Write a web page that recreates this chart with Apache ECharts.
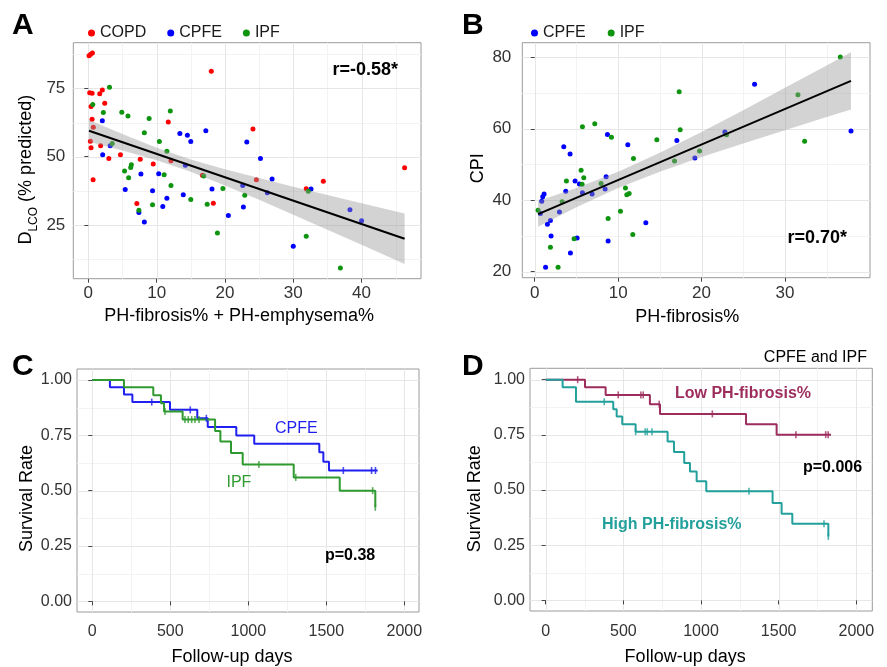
<!DOCTYPE html>
<html><head><meta charset="utf-8">
<script src="https://cdn.jsdelivr.net/npm/echarts@6/dist/echarts.min.js"></script>
<style>html,body{margin:0;padding:0;background:#fff}#c{width:887px;height:667px}</style>
</head><body><div id="c"></div>
<script>
// ---------- Panel A: DLCO vs PH-fibrosis% + PH-emphysema% ----------
const aCopdX = [0.1,0.35,0.6,0.2,0.55,1.67,2.05,2.4,0.4,0.55,0.73,0.3,0.4,1.8,0.7,3.0,4.7,7.6,7.1,9.5,11.7,12.1,18.0,16.7,18.3,24.1,24.6,31.9,34.4,46.3];
const aCopdY = [86.9,87.5,87.9,73.4,73.2,73.0,74.4,69.6,68.4,63.7,60.8,55.7,53.3,54.0,41.6,49.4,50.7,49.1,32.9,47.3,62.7,48.5,81.3,43.2,33.0,60.1,41.6,38.3,41.0,46.0];
const aCpfeX = [2.05,2.1,3.2,5.4,7.7,7.4,8.2,9.4,10.3,10.9,11.5,13.4,13.9,14.2,14.5,15.0,17.2,18.1,20.5,22.6,22.7,23.2,25.2,26.2,26.9,30.0,32.6,38.3,40.0];
const aCpfeY = [63.2,50.7,54.0,38.0,43.7,29.6,26.1,37.6,43.8,31.8,34.8,58.5,36.1,46.9,57.9,55.6,59.5,38.2,28.5,39.5,31.6,55.4,49.4,36.8,41.9,17.3,38.2,30.6,26.6];
const aIpfX = [0.65,3.1,2.2,4.9,5.8,3.5,5.3,5.9,6.2,6.3,7.4,8.2,8.9,9.4,10.4,11.1,11.5,12.0,12.1,15.0,16.9,17.4,18.9,19.7,22.9,31.9,32.2,36.9];
const aIpfY = [69.1,75.4,66.2,66.3,64.9,54.8,44.8,42.3,46.1,47.1,30.4,58.8,64.0,32.4,55.6,43.4,52.0,66.7,39.5,34.4,43.0,32.6,22.1,38.4,35.9,20.9,37.4,9.3];
const aFitX = [0.1, 46.3];
const aFitY = [59.5, 20.0];
const aBandX = [0.1,5,10,15,20,25,30,35,40,46.3];
const aBandLo = [55.5,52.3,48.7,44.5,39.5,34.3,28.8,23.3,17.8,10.8];
const aBandHi = [63.4,58.3,53.3,49.0,45.4,42.2,39.0,36.0,33.0,29.2];
const aXTicks = [0,10,20,30,40];
const aXMinor = [5,15,25,35,45];
const aYTicks = [25,50,75];
const aYMinor = [12.5,37.5,62.5,87.5];

// ---------- Panel B: CPI vs PH-fibrosis% ----------
const bCpfeX = [0.68,0.84,0.96,1.12,1.3,1.52,1.88,1.96,2.96,3.48,3.72,4.24,4.28,4.84,5.08,5.36,5.72,6.88,8.44,8.56,8.72,8.8,11.16,13.32,17.04,19.2,22.8,26.36,37.92];
const bCpfeY = [36.25,39.7,41.0,41.75,21.2,33.3,34.3,30.0,36.7,55.0,42.5,52.95,25.2,45.4,29.4,44.55,42.1,41.75,43.15,46.6,58.4,28.6,55.5,33.7,56.7,51.8,59.1,72.5,59.4];
const bIpfX = [0.4,1.88,2.8,3.28,3.8,4.72,5.56,5.68,5.72,5.88,7.2,7.96,8.8,9.2,10.28,10.88,11.04,11.32,11.76,11.84,14.64,16.76,17.32,17.44,19.76,23.0,31.56,32.36,36.64];
const bIpfY = [37.2,26.8,21.2,39.6,45.4,29.2,48.4,44.5,60.6,46.3,61.4,44.65,34.85,57.6,36.9,43.4,41.5,41.9,30.4,51.7,56.9,51.0,70.4,59.7,53.8,58.3,69.55,56.5,80.1];
const bFitX = [0.4, 37.92];
const bFitY = [36.1, 73.4];
const bBandX = [0.4,5,10,15,20,25,30,35,37.92];
const bBandLo = [32.6,38.0,43.4,48.0,52.1,55.9,59.6,63.3,65.4];
const bBandHi = [39.8,43.4,48.0,53.3,59.1,65.2,71.5,77.7,81.4];
const bXTicks = [0,10,20,30];
const bXMinor = [5,15,25,35];
const bYTicks = [20,40,60,80];
const bYMinor = [30,50,70];

// ---------- Panel C: KM CPFE vs IPF ----------
const cCpfeT = [0,113,203,257,498,673,740,923,1038,1455,1481,1517,1829];
const cCpfeS = [1,0.967,0.934,0.9,0.865,0.827,0.787,0.749,0.712,0.673,0.631,0.591,0.591];
const cCpfeCens = [381,628,731,1609,1790,1815];
const cIpfT = [0,203,391,440,460,579,787,821,889,964,1291,1586,1814];
const cIpfS = [1,0.967,0.931,0.895,0.858,0.821,0.77,0.722,0.67,0.618,0.56,0.5,0.425];
const cIpfCens = [466,594,615,637,658,684,1068,1304,1797,1814];

// ---------- Panel D: KM low vs high PH-fibrosis% ----------
const dLowT = [0,253,386,671,736,1290,1487,1837];
const dLowS = [1,0.966,0.931,0.889,0.845,0.798,0.751,0.751];
const dLowCens = [206,467,613,628,731,1073,1611,1803,1819];
const dHighT = [0,109,195,435,457,493,579,785,826,892,929,972,1034,1461,1519,1588,1820];
const dHighS = [1,0.966,0.9,0.866,0.833,0.798,0.764,0.72,0.672,0.622,0.584,0.54,0.494,0.441,0.393,0.347,0.29];
const dHighCens = [377,579,641,654,684,1309,1792,1820];

const kmXTicks = [0,500,1000,1500,2000];
const kmXMinor = [250,750,1250,1750];
const kmYTicks = [0,0.25,0.5,0.75,1];
const kmYMinor = [0.125,0.375,0.625,0.875];

const FONT = 'Liberation Sans, Arial, sans-serif';
const RED = '#ff0000', BLUE = '#0000ff', GREEN = '#0e940e';
const KBLUE = '#1f1ff0', KGREEN = '#2f9a2f', MAROON = '#9c2d5d', TEAL = '#22a09b';

const zip = (a, b) => a.map((v, i) => [v, b[i]]);
function survAt(T, S, t) { let s = S[0]; for (let i = 0; i < T.length; i++) if (T[i] <= t) s = S[i]; return s; }

function gridLines(idx, xMaj, xMin, yMaj, yMin) {
  return {
    type: 'custom', xAxisIndex: idx, yAxisIndex: idx, silent: true, z: 0,
    data: [[xMaj[0], yMaj[0]]],
    renderItem: function (params, api) {
      const cs = params.coordSys; const ch = [];
      const px = v => Math.round(v) + 0.5;
      const vl = (v, col, w) => { const x = px(api.coord([v, yMaj[0]])[0]); if (x < cs.x || x > cs.x + cs.width) return; ch.push({type:'line', shape:{x1:x,y1:cs.y,x2:x,y2:cs.y+cs.height}, style:{stroke:col, lineWidth:w}}); };
      const hl = (v, col, w) => { const y = px(api.coord([xMaj[0], v])[1]); if (y < cs.y || y > cs.y + cs.height) return; ch.push({type:'line', shape:{x1:cs.x,y1:y,x2:cs.x+cs.width,y2:y}, style:{stroke:col, lineWidth:w}}); };
      xMin.forEach(v => vl(v, '#f3f3f3', 1)); yMin.forEach(v => hl(v, '#f3f3f3', 1));
      xMaj.forEach(v => vl(v, '#e6e6e6', 1)); yMaj.forEach(v => hl(v, '#e6e6e6', 1));
      return {type:'group', children: ch};
    }
  };
}
function band(idx, X, Lo, Hi) {
  return {
    type: 'custom', xAxisIndex: idx, yAxisIndex: idx, silent: true, z: 3,
    data: [[X[0], Lo[0]]],
    renderItem: function (params, api) {
      const pts = [];
      for (let i = 0; i < X.length; i++) pts.push(api.coord([X[i], Hi[i]]));
      for (let i = X.length - 1; i >= 0; i--) pts.push(api.coord([X[i], Lo[i]]));
      return {type:'polygon', shape:{points: pts}, style:{fill:'rgba(150,150,150,0.42)'}};
    }
  };
}
function scat(idx, name, X, Y, col) {
  return {type:'scatter', name, xAxisIndex: idx, yAxisIndex: idx, symbolSize: 5, z: 2,
    itemStyle:{color: col, opacity: 1}, data: zip(X, Y)};
}
function fit(idx, X, Y) {
  return {type:'line', xAxisIndex: idx, yAxisIndex: idx, showSymbol:false, z: 4, silent: true,
    lineStyle:{color:'#000', width: 2}, data: zip(X, Y)};
}
function km(idx, name, T, S, col) {
  return {type:'line', name, xAxisIndex: idx, yAxisIndex: idx, step:'end', showSymbol:false, z: 3,
    lineStyle:{color: col, width: 2}, itemStyle:{color: col}, data: zip(T, S)};
}
function cens(idx, T, S, C, col) {
  return {type:'scatter', xAxisIndex: idx, yAxisIndex: idx, symbol:'rect', symbolSize:[1.6, 7], z: 4,
    itemStyle:{color: col}, data: C.map(t => [t, survAt(T, S, t)])};
}
const plain = v => String(v);
function xAx(idx, min, max, ticks, o) {
  return {type:'value', gridIndex: idx, min, max, name: o.name, nameLocation:'middle', nameGap: o.gap,
    nameTextStyle:{fontFamily: FONT, fontSize: 18, color:'#000', padding: o.pad},
    axisLine:{show:false}, splitLine:{show:false},
    axisTick:{show:true, length: 4, lineStyle:{color:'#444'}, customValues: ticks},
    axisLabel:{customValues: ticks, margin: o.margin, fontFamily: FONT, fontSize: o.fs, color:'#333', formatter: o.fmt || plain}};
}
function yAx(idx, min, max, ticks, o) {
  return {type:'value', gridIndex: idx, min, max, name: o.name, nameLocation:'middle', nameGap: o.gap,
    nameTextStyle:Object.assign({fontFamily: FONT, fontSize: 18, color:'#000', padding: o.pad}, o.nts || {}),
    axisLine:{show:false}, splitLine:{show:false},
    axisTick:{show:true, length: 4, lineStyle:{color:'#444'}, customValues: ticks},
    axisLabel:{customValues: ticks, margin: o.margin, fontFamily: FONT, fontSize: o.fs, color:'#333', formatter: o.fmt || plain}};
}
const f2 = v => v.toFixed(2);

const gridStyle = {show:true, borderColor:'#9a9a9a', borderWidth:1, backgroundColor:'#fff', containLabel:false};
const txt = (text, x, y, o) => ({type:'text', x, y, z: 100, silent:true,
  style:Object.assign({text, fill:'#000', fontFamily: FONT, fontSize: 16, align:'left', verticalAlign:'middle'}, o || {})});

const option = {
  animation: false,
  backgroundColor: '#fff',
  grid: [
    Object.assign({left: 73.3, top: 42.7, width: 347.7, height: 236}, gridStyle),
    Object.assign({left: 522.3, top: 42.7, width: 347.7, height: 235}, gridStyle),
    Object.assign({left: 77, top: 369, width: 342, height: 243.7}, gridStyle),
    Object.assign({left: 530, top: 368.3, width: 342.3, height: 243.4}, gridStyle)
  ],
  legend: [
    {data:['COPD','CPFE','IPF'], left: 83, top: 20, icon:'circle', itemWidth: 7, itemHeight: 7, itemGap: 21,
      textStyle:{fontFamily: FONT, fontSize: 16, color:'#1a1a1a'}, selectedMode: false},
    {data:['CPFE','IPF'], left: 526, top: 20, icon:'circle', itemWidth: 7, itemHeight: 7, itemGap: 22,
      textStyle:{fontFamily: FONT, fontSize: 16, color:'#1a1a1a'}, selectedMode: false}
  ],
  xAxis: [
    xAx(0, -2.2, 48.7, aXTicks, {name:'PH-fibrosis% + PH-emphysema%', gap: 28, pad:[0,16,0,0], margin: 6, fs: 17}),
    xAx(1, -1.49, 40.2, bXTicks, {name:'PH-fibrosis%', gap: 30, pad:[0,18,0,0], margin: 7, fs: 17}),
    xAx(2, -98, 2094, kmXTicks, {name:'Follow-up days', gap: 36, pad:[0,32,0,0], margin: 12, fs: 16}),
    xAx(3, -101, 2103, kmXTicks, {name:'Follow-up days', gap: 37, pad:[0,32,0,0], margin: 13, fs: 16})
  ],
  yAxis: [
    yAx(0, 5.4, 91.7, aYTicks, {name:'D{s|LCO} (% predicted)', gap: 38, pad:[0,18,0,0], margin: 8, fs: 17,
      nts:{rich:{s:{fontFamily: FONT, fontSize: 12, color:'#000', verticalAlign:'bottom', padding:[0,0,-4,0]}}}}),
    yAx(1, 18.3, 84.1, bYTicks, {name:'CPI', gap: 35, pad:[0,16,0,0], margin: 11, fs: 17}),
    yAx(2, -0.048, 1.0495, kmYTicks, {name:'Survival Rate', gap: 41, pad:[0,16,0,0], margin: 5, fs: 16, fmt: f2}),
    yAx(3, -0.048, 1.0515, kmYTicks, {name:'Survival Rate', gap: 46, pad:[0,18,0,0], margin: 5, fs: 16, fmt: f2})
  ],
  series: [
    gridLines(0, aXTicks, aXMinor, aYTicks, aYMinor),
    gridLines(1, bXTicks, bXMinor, bYTicks, bYMinor),
    gridLines(2, kmXTicks, kmXMinor, kmYTicks, kmYMinor),
    gridLines(3, kmXTicks, kmXMinor, kmYTicks, kmYMinor),
    scat(0, 'COPD', aCopdX, aCopdY, RED),
    scat(0, 'CPFE', aCpfeX, aCpfeY, BLUE),
    scat(0, 'IPF', aIpfX, aIpfY, GREEN),
    band(0, aBandX, aBandLo, aBandHi),
    fit(0, aFitX, aFitY),
    scat(1, 'CPFE', bCpfeX, bCpfeY, BLUE),
    scat(1, 'IPF', bIpfX, bIpfY, GREEN),
    band(1, bBandX, bBandLo, bBandHi),
    fit(1, bFitX, bFitY),
    km(2, 'km-cpfe', cCpfeT, cCpfeS, KBLUE),
    km(2, 'km-ipf', cIpfT, cIpfS, KGREEN),
    cens(2, cCpfeT, cCpfeS, cCpfeCens, KBLUE),
    cens(2, cIpfT, cIpfS, cIpfCens, KGREEN),
    km(3, 'km-low', dLowT, dLowS, MAROON),
    km(3, 'km-high', dHighT, dHighS, TEAL),
    cens(3, dLowT, dLowS, dLowCens, MAROON),
    cens(3, dHighT, dHighS, dHighCens, TEAL)
  ],
  graphic: { elements: [
    txt('A', 12, 26, {fontSize: 30, fontWeight:'bold'}),
    txt('B', 462, 26, {fontSize: 30, fontWeight:'bold'}),
    txt('C', 12, 367, {fontSize: 30, fontWeight:'bold'}),
    txt('D', 462, 367, {fontSize: 30, fontWeight:'bold'}),
    txt('r=-0.58*', 398, 70, {fontSize: 18, fontWeight:'bold', align:'right'}),
    txt('r=0.70*', 847, 238, {fontSize: 18, fontWeight:'bold', align:'right'}),
    txt('CPFE', 275, 428.5, {fill: KBLUE}),
    txt('IPF', 226.5, 482.5, {fill: KGREEN}),
    txt('p=0.38', 325, 556, {fontWeight:'bold'}),
    txt('CPFE and IPF', 867, 357.5, {align:'right'}),
    txt('Low PH-fibrosis%', 675, 393.5, {fontWeight:'bold', fill: MAROON}),
    txt('High PH-fibrosis%', 602, 524.5, {fontWeight:'bold', fill: TEAL}),
    txt('p=0.006', 803, 468, {fontWeight:'bold'})
  ]}
};
const chart = echarts.init(document.getElementById('c'), null, {renderer:'canvas'});
chart.setOption(option);
</script></body></html>
